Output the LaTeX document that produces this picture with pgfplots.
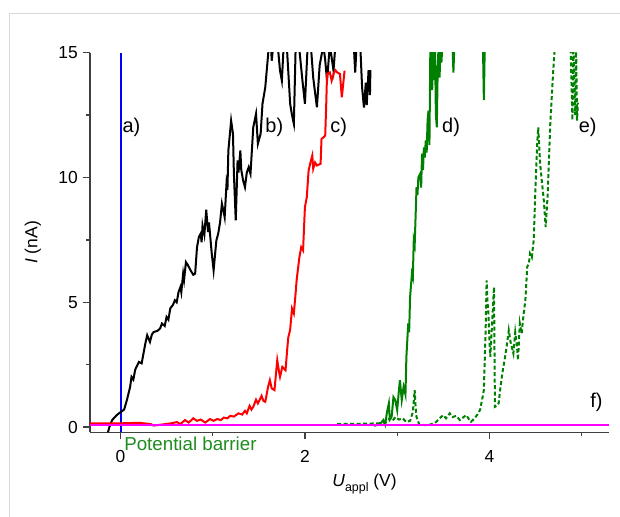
\documentclass[border=0pt]{standalone}
\usepackage{pgfplots}
\pgfplotsset{compat=1.18}
\usepackage{fontspec}
\setmainfont{Liberation Sans}
\definecolor{axisgray}{HTML}{404040}
\definecolor{framegray}{HTML}{D9D9D9}
\definecolor{dgreen}{HTML}{008000}
\definecolor{tgreen}{HTML}{1E8C1E}
\definecolor{mag}{HTML}{FF00FF}
\begin{document}
\begin{tikzpicture}
\useasboundingbox (0,0) rectangle (620bp,517bp);
\draw[framegray, line width=1bp] (9bp,0) -- (9bp,503bp) -- (620bp,503bp);
\begin{axis}[
  at={(90bp,84.7bp)}, anchor=south west,
  scale only axis, width=519.3bp, height=379.6bp,
  xmin=-0.33, xmax=5.30, ymin=-0.21, ymax=15,
  axis lines=left,
  axis line style={-, draw=axisgray, line width=1.4bp},
  xtick={0,2,4}, minor xtick={1,3,5},
  ytick={0,5,10,15}, minor ytick={2.5,7.5,12.5},
  tick align=outside,
  major tick length=7bp, minor tick length=3.5bp,
  tick style={draw=axisgray, line width=1.3bp},
  /pgf/number format/assume math mode=true,
  tick label style={font=\fontsize{17.5}{20}\selectfont, inner sep=0pt},
  xticklabel style={yshift=-11bp},
  yticklabel style={xshift=-5bp},
  ylabel={\textit{I} (nA)},
  ylabel style={at={(axis description cs:-0.11,0.5)}, anchor=center, font=\fontsize{17.5}{20}\selectfont},
  xlabel={\textit{U}\raisebox{-5.5bp}{\fontsize{12.5}{13}\selectfont appl} (V)},
  xlabel style={at={(axis description cs:0.5286,-0.1415)}, anchor=base, font=\fontsize{17.5}{20}\selectfont, inner sep=0pt},
  clip mode=individual,
]
% a) blue vertical line
\addplot[blue, line width=2.3bp] coordinates {(0.003,-0.21) (0.003,15)};
% b) black
\addplot[black, line width=2bp] coordinates {
(-0.135,-0.21) (-0.12,0.0) (-0.09,0.28) (-0.04,0.48) (0.01,0.62) (0.04,0.7) (0.07,1.08)
(0.105,1.61) (0.12,2.01) (0.14,1.9) (0.16,2.3) (0.20,2.61) (0.23,2.55) (0.27,3.35)
(0.29,3.68) (0.32,3.41) (0.34,3.7) (0.36,3.81) (0.40,3.85) (0.43,3.95) (0.45,4.15)
(0.48,4.05) (0.50,4.41) (0.52,4.3) (0.54,4.75) (0.57,4.9) (0.59,5.08) (0.61,5.0)
(0.63,5.41) (0.65,5.61) (0.66,5.4) (0.68,6.15) (0.69,5.9) (0.71,6.61) (0.73,6.5)
(0.76,6.28) (0.79,6.1) (0.81,6.15) (0.83,7.2) (0.85,7.61) (0.87,7.75) (0.88,7.4)
(0.89,8.08) (0.91,7.7) (0.93,8.71) (0.95,7.81) (0.96,8.2) (0.99,6.95) (1.01,6.28)
(1.04,7.48) (1.06,7.75) (1.08,8.2) (1.10,8.95) (1.12,8.6) (1.13,8.41) (1.15,9.75)
(1.16,9.5) (1.17,11.08) (1.20,12.28) (1.22,11.75) (1.23,10.15) (1.25,8.28) (1.27,10.68)
(1.28,10.2) (1.30,11.08) (1.31,10.3) (1.33,9.88) (1.35,9.61) (1.37,10.2) (1.39,10.41)
(1.41,10.15) (1.44,12.01) (1.47,12.55) (1.49,11.35) (1.52,11.75) (1.54,12.95) (1.57,13.61)
(1.61,15.3) (1.63,15.5) (1.64,14.68) (1.66,15.4) (1.70,15.5) (1.73,14.28) (1.75,13.88)
(1.77,15.3) (1.80,15.5) (1.84,12.95) (1.86,12.5) (1.88,12.15) (1.90,15.3) (1.93,15.5)
(1.97,14.0) (2.00,12.95) (2.03,15.3) (2.06,15.5) (2.09,14.0) (2.13,12.81) (2.16,14.5)
(2.20,15.3) (2.22,14.7) (2.24,13.88) (2.27,15.3) (2.29,14.8) (2.31,14.28) (2.33,15.3)
(2.40,16) (2.50,16) (2.53,15.3) (2.545,14.2) (2.56,15.3) (2.60,15.3) (2.62,13.6)
(2.64,12.8) (2.66,13.8) (2.67,12.9) (2.69,14.3) (2.705,13.3) (2.71,14.3)
};
% c) red
\addplot[red, line width=2bp] coordinates {
(-0.33,0.15) (0.0,0.15) (0.2,0.17) (0.33,0.12) (0.36,0.06) (0.45,0.1) (0.55,0.15)
(0.61,0.2) (0.65,0.12) (0.70,0.28) (0.74,0.18) (0.79,0.35) (0.83,0.25) (0.87,0.3)
(0.92,0.18) (0.97,0.32) (1.01,0.25) (1.05,0.32) (1.09,0.28) (1.12,0.38) (1.16,0.35)
(1.19,0.45) (1.23,0.42) (1.28,0.55) (1.32,0.5) (1.35,0.65) (1.37,0.55) (1.40,0.85)
(1.42,0.7) (1.44,0.81) (1.47,1.1) (1.49,0.95) (1.53,1.25) (1.55,1.05) (1.57,1.01)
(1.60,1.6) (1.62,1.88) (1.64,1.55) (1.67,1.48) (1.70,2.68) (1.72,2.2) (1.73,2.01)
(1.755,2.41) (1.79,2.28) (1.81,3.2) (1.82,3.6) (1.84,3.9) (1.86,4.75) (1.88,4.55)
(1.90,5.4) (1.91,5.88) (1.94,6.8) (1.96,7.21) (1.98,7.08) (2.00,8.81) (2.02,9.2)
(2.04,10.28) (2.06,10.6) (2.08,10.88) (2.09,10.35) (2.11,10.6) (2.13,10.48) (2.17,10.55)
(2.18,11.55) (2.20,11.6) (2.22,11.68) (2.23,12.8) (2.24,14.15) (2.27,14.21) (2.29,13.88)
(2.31,14.15) (2.33,14.3) (2.35,14.21) (2.38,14.15) (2.40,13.21) (2.43,14.28)
};
% d) green solid
\addplot[dgreen, line width=2bp] coordinates {
(2.75,0.05) (2.78,0.08) (2.82,0.15) (2.85,0.28) (2.87,0.1) (2.89,0.6) (2.91,0.95)
(2.92,0.3) (2.94,0.41) (2.96,1.2) (2.98,1.08) (3.00,0.68) (3.02,1.5) (3.03,1.88)
(3.05,1.08) (3.07,1.61) (3.09,1.3) (3.10,2.8) (3.12,4.15) (3.13,3.8) (3.14,5.2) (3.16,6.15)
(3.17,6.0) (3.18,7.48) (3.19,7.3) (3.21,9.61) (3.22,9.3) (3.23,10.0) (3.25,10.15)
(3.26,9.6) (3.27,10.95) (3.28,10.3) (3.29,11.2) (3.30,10.8) (3.31,11.48) (3.32,11.0)
(3.33,12.3) (3.34,12.68) (3.35,11.3) (3.36,15.3) (3.37,13.8) (3.38,13.5) (3.39,15.3)
(3.40,13.9) (3.41,15.3) (3.42,12.5) (3.43,12.01) (3.44,14.5) (3.45,15.3) (3.46,14.0)
(3.47,15.3) (3.48,14.6) (3.49,15.3) (3.52,16) (3.60,15.3) (3.61,14.2) (3.62,15.3)
(3.70,16) (3.93,15.3) (3.94,13.1) (3.95,15.3) (4.0,16)
};
% e) green dashed
\addplot[dgreen, line width=2bp, dash pattern=on 4bp off 2.5bp] coordinates {
(2.35,0.12) (2.6,0.13) (2.8,0.15) (2.88,0.2) (2.92,0.35) (2.95,0.25) (2.98,0.4)
(3.02,0.3) (3.06,0.35) (3.10,0.2) (3.14,0.25) (3.17,0.6) (3.19,1.48) (3.20,0.8)
(3.21,0.4) (3.24,0.1) (3.30,0.08) (3.36,0.1) (3.42,0.2) (3.46,0.35) (3.50,0.48)
(3.53,0.35) (3.57,0.55) (3.60,0.4) (3.64,0.45) (3.68,0.28) (3.72,0.4) (3.75,0.48)
(3.78,0.3) (3.80,0.21) (3.84,0.35) (3.88,0.55) (3.90,0.7) (3.92,1.08) (3.94,1.48)
(3.96,4.0) (3.97,5.88) (3.98,5.0) (3.99,4.55) (4.00,3.5) (4.01,2.81) (4.02,3.5)
(4.03,4.2) (4.05,5.61) (4.06,0.81) (4.08,0.85) (4.10,0.95) (4.12,1.6) (4.14,2.15)
(4.17,2.81) (4.19,3.3) (4.21,3.88) (4.23,3.4) (4.26,2.95) (4.28,3.8) (4.30,3.2)
(4.31,2.68) (4.33,4.15) (4.35,3.75) (4.37,4.5) (4.39,5.08) (4.41,6.41) (4.43,6.6)
(4.44,6.95) (4.46,6.8) (4.48,7.48) (4.50,9.61) (4.52,11.48) (4.53,12.01) (4.55,10.55)
(4.57,9.8) (4.59,9.08) (4.61,8.01) (4.63,9.2) (4.66,12.15) (4.69,14.15) (4.71,15.3)
(4.75,16) (4.85,16) (4.88,15.3) (4.90,12.3) (4.91,15.3) (4.93,12.5) (4.94,15.3)
(4.95,12.28) (4.96,13.0)
};
% f) magenta
\addplot[mag, line width=2.2bp] coordinates {(-0.33,0.08) (5.30,0.08)};
\node[anchor=west, inner sep=0pt, font=\fontsize{20}{22}\selectfont] at (axis cs:0.022,12) {a)};
\node[anchor=west, inner sep=0pt, font=\fontsize{20}{22}\selectfont] at (axis cs:1.57,12) {b)};
\node[anchor=west, inner sep=0pt, font=\fontsize{20}{22}\selectfont] at (axis cs:2.275,12) {c)};
\node[anchor=west, inner sep=0pt, font=\fontsize{20}{22}\selectfont] at (axis cs:3.486,12) {d)};
\node[anchor=west, inner sep=0pt, font=\fontsize{20}{22}\selectfont] at (axis cs:4.967,12) {e)};
\node[anchor=west, inner sep=0pt, font=\fontsize{20}{22}\selectfont] at (axis cs:5.093,1.01) {f)};
\node[anchor=base west, inner sep=0pt, text=tgreen, font=\fontsize{18.8}{21}\selectfont] at (axis cs:0.04,-0.93) {Potential barrier};
\end{axis}
\end{tikzpicture}
\end{document}
